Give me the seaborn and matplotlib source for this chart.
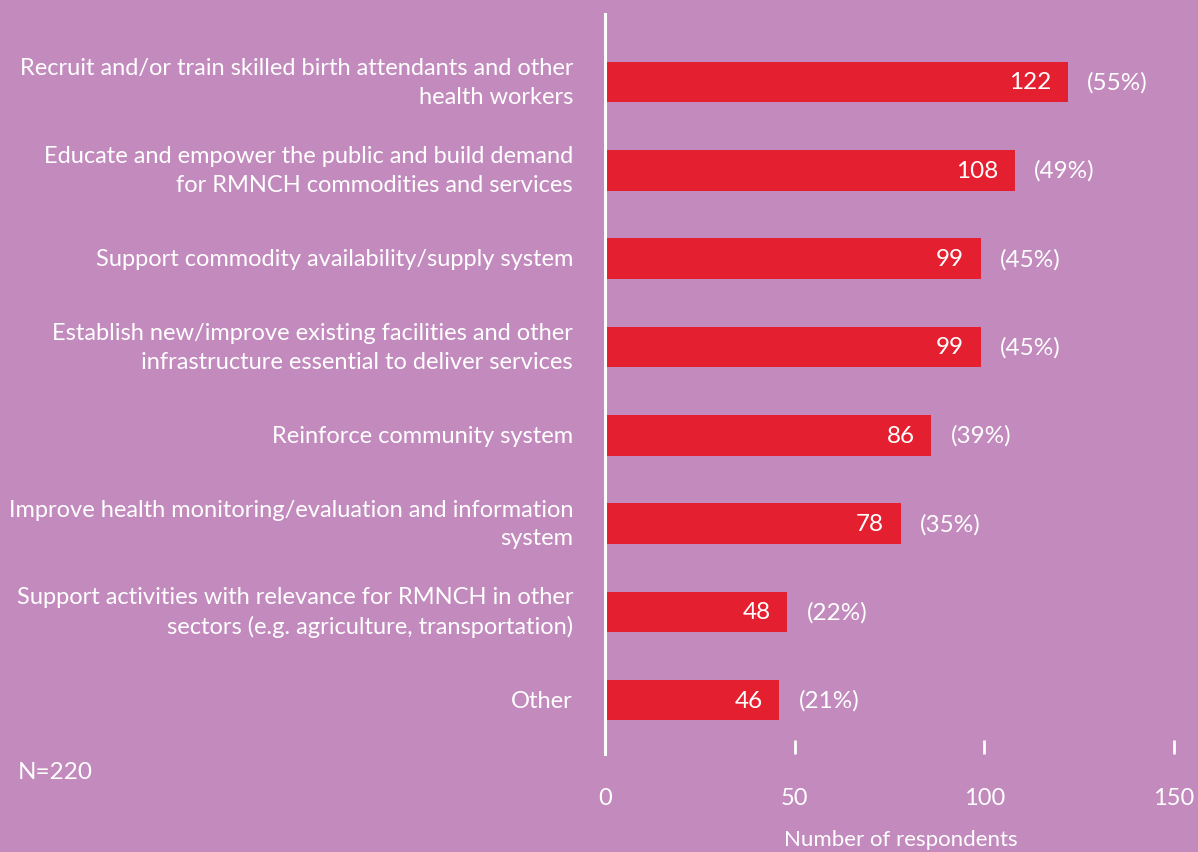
import matplotlib
matplotlib.use("Agg")
import matplotlib.pyplot as plt
import seaborn as sns
import pandas as pd

categories = [
    "Recruit and/or train skilled birth attendants and other\nhealth workers",
    "Educate and empower the public and build demand\nfor RMNCH commodities and services",
    "Support commodity availability/supply system",
    "Establish new/improve existing facilities and other\ninfrastructure essential to deliver services",
    "Reinforce community system",
    "Improve health monitoring/evaluation and information\nsystem",
    "Support activities with relevance for RMNCH in other\nsectors (e.g. agriculture, transportation)",
    "Other",
]
counts = [122, 108, 99, 99, 86, 78, 48, 46]
percents = ["(55%)", "(49%)", "(45%)", "(45%)", "(39%)", "(35%)", "(22%)", "(21%)"]
xticks = [0, 50, 100, 150]
note = "N=220"
xlabel = "Number of respondents"

BG = "#C28ABD"
RED = "#E41F2F"
WHITE = "#FFFFFF"

sns.set_theme(style="white")
plt.rcParams["font.family"] = ["Lato", "DejaVu Sans"]

W, H = 1198, 853
fig = plt.figure(figsize=(W / 100, H / 100), dpi=100, facecolor=BG)
ax = fig.add_axes([605 / W, 1 - 755 / H, (1174 - 605) / W, (755 - 15) / H])
ax.set_facecolor(BG)

df = pd.DataFrame({"category": categories, "count": counts})
sns.barplot(data=df, x="count", y="category", orient="h", color=RED,
            width=0.46, saturation=1, edgecolor="none", linewidth=0, ax=ax)

ax.set_xlim(0, 150)
ax.set_ylim(7.61, -0.77)

for s in ["top", "right", "bottom"]:
    ax.spines[s].set_visible(False)
ax.spines["left"].set_color(WHITE)
ax.spines["left"].set_linewidth(2.2)

ax.set_xticks(xticks)
ax.set_xticklabels([str(t) for t in xticks], color=WHITE, fontsize=17)
ax.tick_params(axis="x", direction="in", length=10, width=2, color=WHITE, pad=24, bottom=True)
ax.tick_params(axis="y", length=0, pad=23)
for lab in ax.get_yticklabels():
    lab.set_color(WHITE)
    lab.set_fontsize(17)
    lab.set_linespacing(1.45)
    lab.set_verticalalignment("center")
ax.set_xlabel("")
ax.set_ylabel("")

for i, (c, p) in enumerate(zip(counts, percents)):
    ax.annotate(str(c), xy=(c, i), xytext=(-12, 0), textcoords="offset points",
                ha="right", va="center", color=WHITE, fontsize=17.5)
    ax.annotate(p, xy=(c, i), xytext=(14, 0), textcoords="offset points",
                ha="left", va="center", color=WHITE, fontsize=17.5)

fig.text(18 / W, 1 - 773 / H, note, ha="left", va="center", color=WHITE,
         fontsize=17.5)
fig.text(901 / W, 1 - 840 / H, xlabel, ha="center", va="center", color=WHITE,
         fontsize=16)

fig.savefig("out.png", dpi=100, facecolor=BG)
